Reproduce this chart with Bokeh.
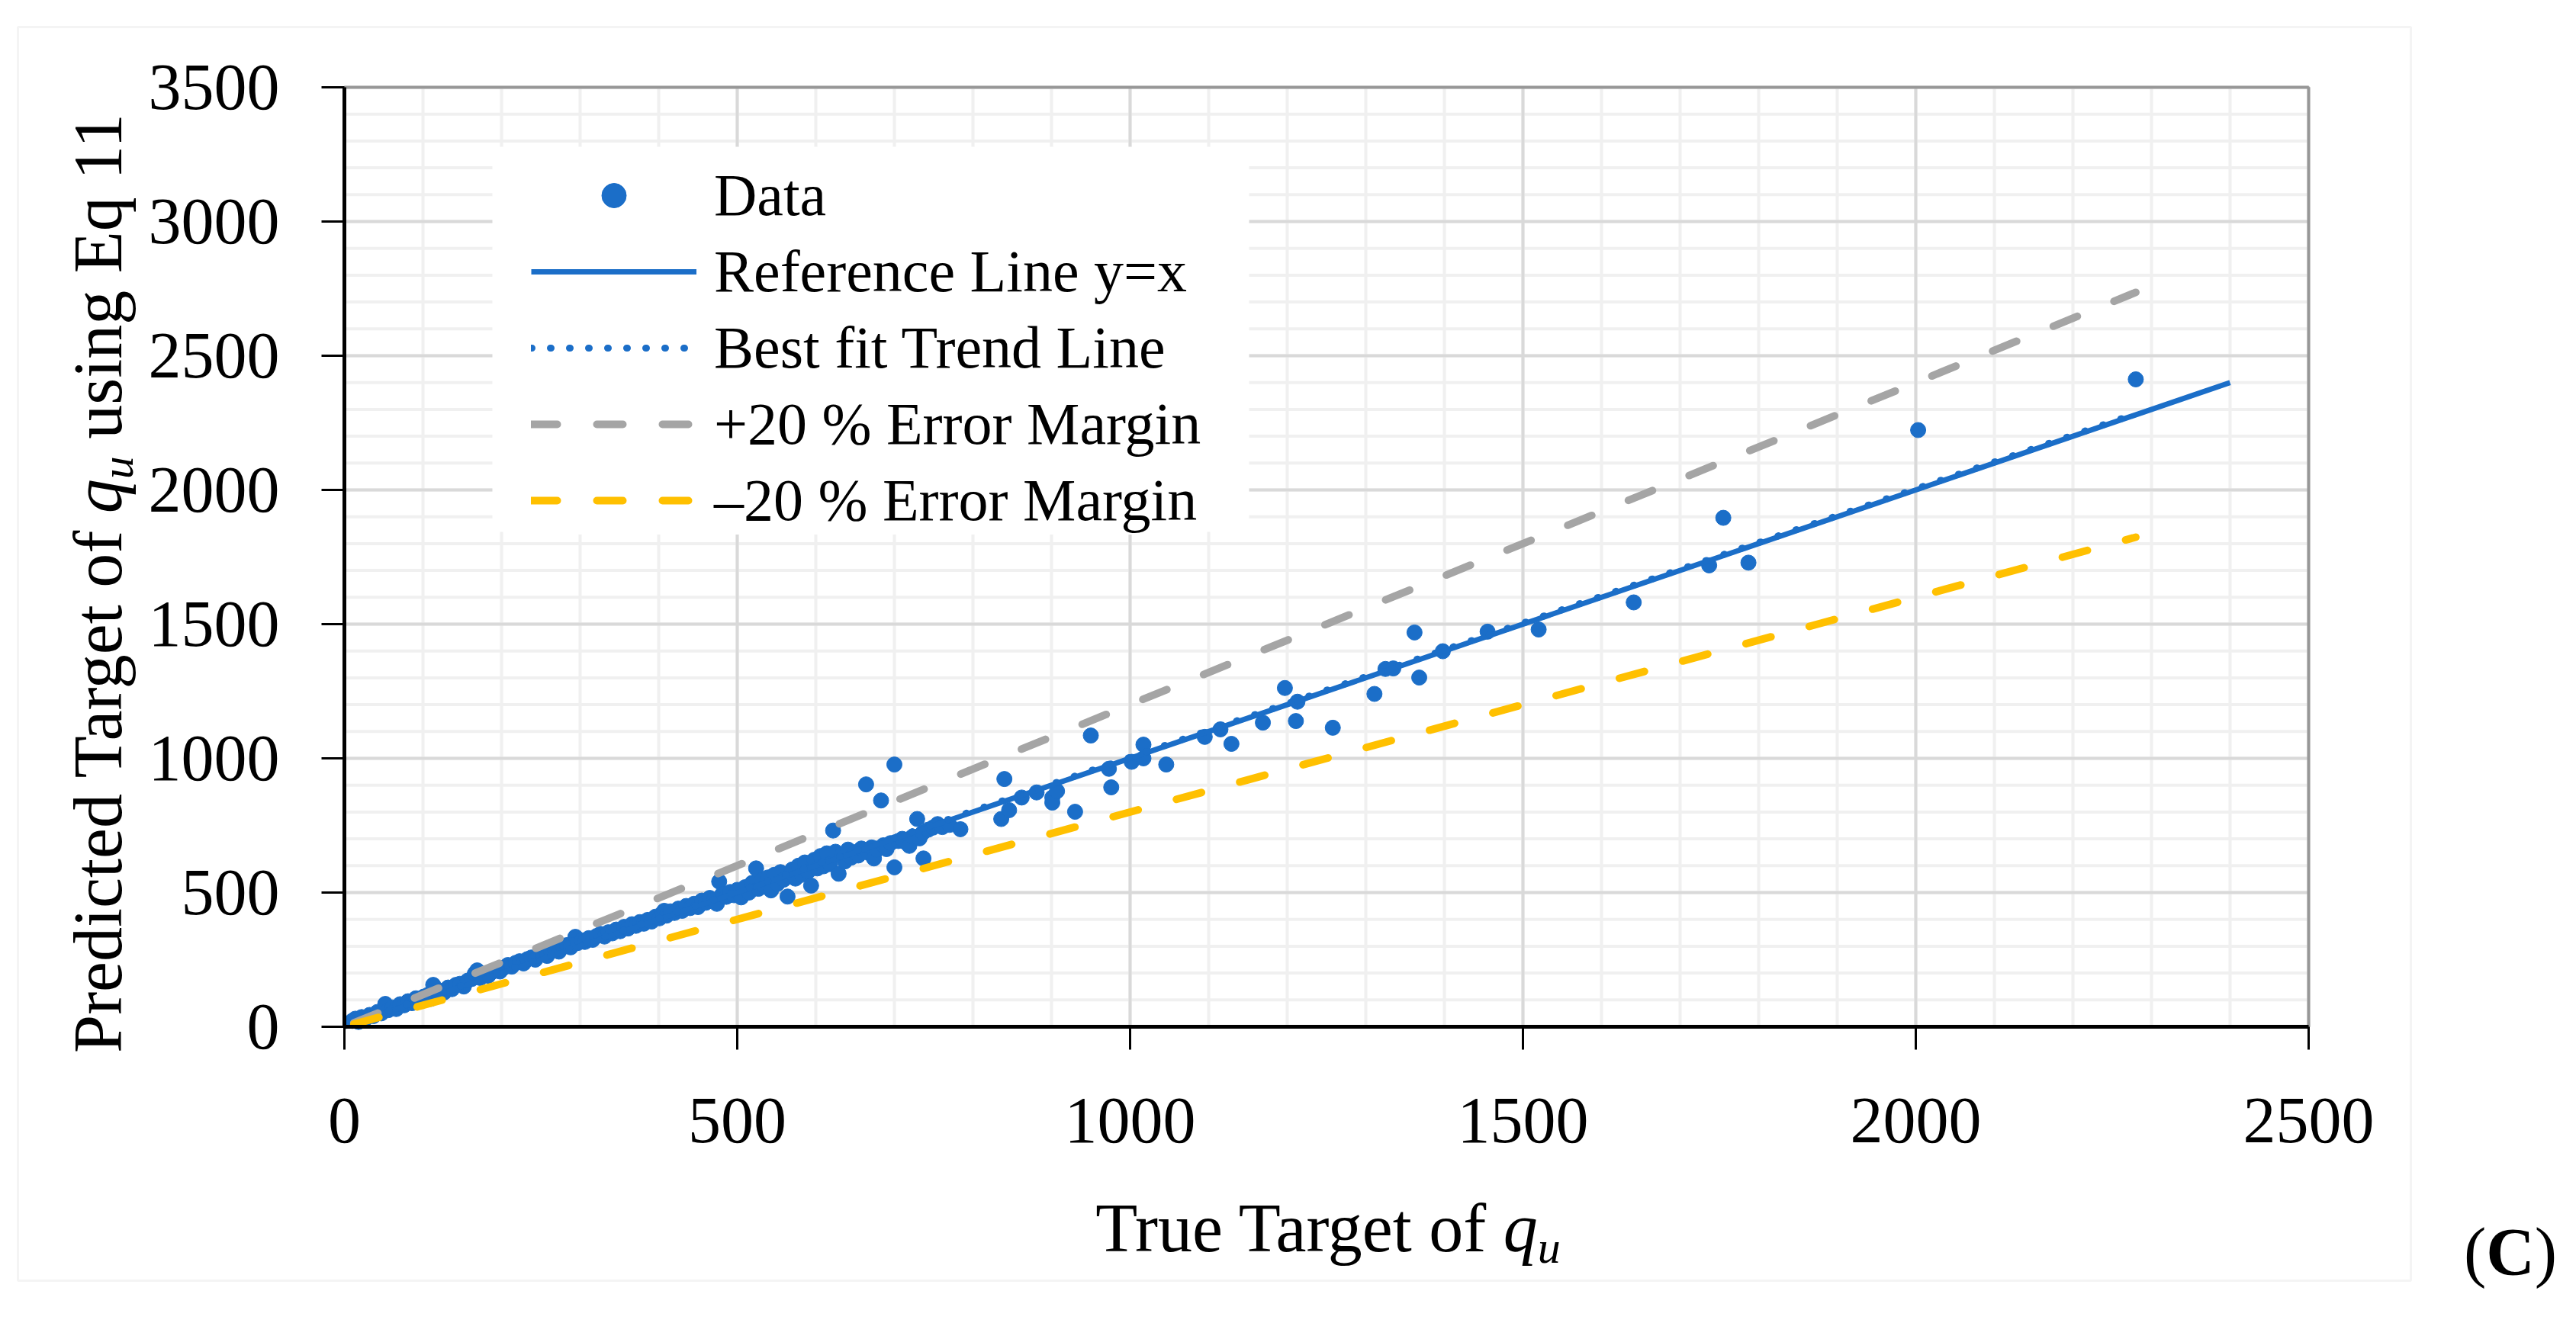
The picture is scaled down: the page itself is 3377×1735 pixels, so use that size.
import math
import glob
from bokeh.plotting import figure
from bokeh.models import (Range1d, FixedTicker, Label, Legend, LegendItem, BoxAnnotation)
from bokeh.embed import file_html
from bokeh.resources import INLINE

# ---------------- data ----------------
true_qu = [10, 14, 18, 22, 27, 32, 37, 42, 47, 52, 56, 61, 66, 71, 76, 81, 86, 91, 96, 101,
           106, 110, 113, 117, 122, 127, 132, 137, 142, 147, 152, 157, 162, 166, 169, 173, 178, 183, 188, 193,
           198, 203, 208, 213, 218, 223, 228, 233, 238, 243, 248, 253, 258, 263, 268, 273, 278, 283, 288, 294,
           297, 302, 306,
           311, 316, 321, 326, 331, 336, 341, 346, 351, 356, 361, 366, 371, 376, 381, 386, 391, 396, 401, 405,
           407, 410, 415, 420, 425, 430, 435, 440, 445, 450, 455, 460, 465, 470, 474, 477, 481, 486, 491, 496,
           500, 505,
           510, 515, 519, 524, 527, 531, 535, 539, 543, 547, 551, 555, 559, 564, 566, 570, 574, 578, 582, 586,
           590, 594, 598, 602, 606, 610, 614, 618, 622, 625, 629, 633, 637, 641, 645, 650, 654, 658, 664, 667,
           671, 674, 678, 683, 686, 690, 695, 700, 700, 705, 710, 715, 719, 723, 729, 732, 736, 737, 743, 749,
           755, 761, 770, 784,
           836, 840, 846, 862, 881, 901, 901, 907, 930, 950, 973, 976, 1002, 1017, 1017, 1046, 1095, 1115, 1129, 1169,
           1197, 1211, 1213, 1258, 1311, 1325, 1335, 1362, 1368, 1398, 1455, 1520, 1641, 1737, 1755, 1787, 2003, 2280]
pred_qu = [22, 30, 18, 36, 30, 44, 40, 55, 50, 85, 62, 72, 66, 84, 80, 95, 88, 106, 100, 112,
           118, 104, 156, 126, 134, 128, 146, 140, 156, 160, 150, 172, 178, 198, 210, 182, 194, 190, 204, 212,
           206, 220, 230, 224, 238, 244, 236, 252, 258, 250, 266, 272, 264, 282, 288, 280, 298, 304, 296, 335,
           312, 322, 316,
           330, 324, 338, 346, 336, 352, 348, 362, 356, 372, 366, 382, 376, 390, 384, 398, 392, 410, 404, 424,
           432, 414, 430, 424, 440, 432, 450, 442, 458, 446, 470, 462, 480, 472, 458, 541, 494, 484, 502, 490,
           510, 482,
           520, 500, 536, 590, 514, 546, 522, 556, 508, 566, 532, 576, 548, 485, 560, 586, 552, 600, 566, 612,
           578, 526, 622, 590, 636, 598, 646, 606, 731, 652, 570, 640, 616, 660, 630, 650, 638, 664, 903, 648,
           668, 627, 660, 843, 676, 662, 684, 977, 594, 692, 700, 686, 674, 708, 774, 702, 722, 627, 734, 742,
           755, 744, 752, 736,
           774, 923, 807, 854, 873, 854, 835, 878, 801, 1085, 961, 892, 987, 1000, 1051, 977, 1080, 1108, 1054, 1133,
           1262, 1139, 1211, 1114, 1240, 1333, 1335, 1469, 1301, 1399, 1472, 1480, 1581, 1719, 1896, 1729, 2223, 2412]

ref_x = [0, 2400]
ref_y = [0, 2400]
trend_x = [10, 2280]
trend_y = [14, 2284]
plus20_x = [12, 2280]
plus20_y = [14.4, 2736]
minus20_x = [12, 2280]
minus20_y = [9.6, 1824]

x_ticks = [0, 500, 1000, 1500, 2000, 2500]
y_ticks = [0, 500, 1000, 1500, 2000, 2500, 3000, 3500]
x_minor = list(range(0, 2501, 100))
y_minor = list(range(0, 3501, 100))

series_labels = ["Data", "Reference Line y=x", "Best fit Trend Line",
                 "+20 % Error Margin", "\u201320 % Error Margin"]
x_title = ["True Target of ", "q", "u"]
y_title = ["Predicted Target of ", "q", "u", " using Eq 11"]
tag = ["(", "C", ")"]

BLUE = "#1b6ec8"
GRAY = "#a5a5a5"
GOLD = "#ffc000"
FONT = "Liberation Serif"

# ---------------- text width helper (layout only) ----------------
_TW = {' ': 250, 'P': 556, 'r': 333, 'e': 444, 'd': 500, 'i': 278, 'c': 444, 't': 278, 'T': 611,
       'a': 444, 'g': 500, 'o': 500, 'f': 333, 'u': 500, 's': 389, 'n': 500, 'E': 611, 'q': 500,
       '1': 500, '(': 333, ')': 333, 'C': 667}
_FILES = {"normal": "LiberationSerif-Regular.ttf", "italic": "LiberationSerif-Italic.ttf",
          "bold": "LiberationSerif-Bold.ttf"}
_font_cache = {}


def text_w(text, size, style="normal"):
    try:
        from PIL import ImageFont
        key = (style, size)
        if key not in _font_cache:
            hits = []
            for root in ("/usr/share/fonts", "/usr/local/share/fonts", "/usr/share/fonts/truetype"):
                hits += glob.glob(f"{root}/**/{_FILES[style]}", recursive=True)
            _font_cache[key] = ImageFont.truetype(hits[0], size)
        return float(_font_cache[key].getlength(text))
    except Exception:
        extra = 1.08 if style == "bold" else 1.0
        return sum(_TW.get(ch, 500) for ch in text) / 1000.0 * size * extra


# ---------------- layout: the frame covers the whole canvas ----------------
W, H = 3360, 1718            # canvas (page offset 8 px)
PLOT_L, PLOT_R = 451, 3026   # canvas px of x = 0 and x = 2500
PLOT_T, PLOT_B = 114, 1346   # canvas px of y = 3500 and y = 0
XMIN, XMAX = x_ticks[0], x_ticks[-1]
YMIN, YMAX = y_ticks[0], y_ticks[-1]
kx = (PLOT_R - PLOT_L) / (XMAX - XMIN)
ky = (PLOT_B - PLOT_T) / (YMAX - YMIN)
x_range = Range1d(XMIN - PLOT_L / kx, XMAX + (W - PLOT_R) / kx)
y_range = Range1d(YMIN - (H - PLOT_B) / ky, YMAX + PLOT_T / ky)

p = figure(width=W, height=H, output_backend="svg", toolbar_location=None,
           x_range=x_range, y_range=y_range, min_border=0)
p.background_fill_color = "white"
p.border_fill_color = "white"
p.outline_line_color = None
p.xgrid.visible = False
p.ygrid.visible = False

xt = FixedTicker(ticks=x_ticks, minor_ticks=x_minor)
yt = FixedTicker(ticks=y_ticks, minor_ticks=y_minor)
xa, ya = p.xaxis[0], p.yaxis[0]
xa.ticker = xt
ya.ticker = yt
xa.fixed_location = YMIN
ya.fixed_location = XMIN
xa.bounds = (XMIN, XMAX)
ya.bounds = (YMIN, YMAX)
for ax in (xa, ya):
    ax.axis_line_color = "black"
    ax.axis_line_width = 5
    ax.major_tick_line_color = "black"
    ax.major_tick_line_width = 3
    ax.major_tick_out = 30
    ax.major_tick_in = 0
    ax.minor_tick_line_color = None
    ax.major_label_text_font = FONT
    ax.major_label_text_font_size = "86px"
    ax.major_label_text_color = "black"
xa.major_label_standoff = 64
ya.major_label_standoff = 55

# ---------------- grid lines (from the tick arrays) ----------------
p.segment(x0=x_minor, y0=[YMIN] * len(x_minor), x1=x_minor, y1=[YMAX] * len(x_minor),
          line_color="#f0f0f0", line_width=4, level="image")
p.segment(x0=[XMIN] * len(y_minor), y0=y_minor, x1=[XMAX] * len(y_minor), y1=y_minor,
          line_color="#f0f0f0", line_width=4, level="image")
p.segment(x0=x_ticks, y0=[YMIN] * len(x_ticks), x1=x_ticks, y1=[YMAX] * len(x_ticks),
          line_color="#d9d9d9", line_width=4, level="image")
p.segment(x0=[XMIN] * len(y_ticks), y0=y_ticks, x1=[XMAX] * len(y_ticks), y1=y_ticks,
          line_color="#d9d9d9", line_width=4, level="image")

# white area behind the legend (hides the grid there)
p.add_layout(BoxAnnotation(left=645, right=1637, top=1526, bottom=1021,
                           left_units="screen", right_units="screen",
                           top_units="screen", bottom_units="screen",
                           fill_color="white", fill_alpha=1.0, line_color=None, level="underlay"))

# ---------------- glyphs ----------------
r_pts = p.scatter(true_qu, pred_qu, size=20, marker="circle", fill_color=BLUE, line_color=BLUE)
r_ref = p.line(ref_x, ref_y, line_color=BLUE, line_width=7)
r_trend = p.line(trend_x, trend_y, line_color=BLUE, line_width=9, line_dash="1 24", line_cap="round")
r_p20 = p.line(plus20_x, plus20_y, line_color=GRAY, line_width=10, line_dash="34 52", line_cap="round")
r_m20 = p.line(minus20_x, minus20_y, line_color=GOLD, line_width=10, line_dash="34 52", line_cap="round")

# plot-area box (top and right black border)
p.add_layout(BoxAnnotation(left=XMIN, right=XMAX, bottom=YMIN, top=YMAX,
                           fill_color=None, fill_alpha=0, line_color="black", line_width=4))

legend = Legend(items=[LegendItem(label=series_labels[0], renderers=[r_pts]),
                       LegendItem(label=series_labels[1], renderers=[r_ref]),
                       LegendItem(label=series_labels[2], renderers=[r_trend]),
                       LegendItem(label=series_labels[3], renderers=[r_p20]),
                       LegendItem(label=series_labels[4], renderers=[r_m20])],
                location=(696, 1017), orientation="vertical",
                label_text_font=FONT, label_text_font_size="78px", label_text_color="black",
                glyph_width=217, glyph_height=80, label_height=80, label_standoff=23,
                spacing=10, padding=25, margin=0,
                background_fill_color="white", background_fill_alpha=1.0,
                border_line_color=None)
p.add_layout(legend)

# ---------------- outer light border ----------------
p.add_layout(BoxAnnotation(left=23, right=3160, top=1683, bottom=39,
                           left_units="screen", right_units="screen",
                           top_units="screen", bottom_units="screen",
                           fill_color=None, fill_alpha=0,
                           line_color="#d9d9d9", line_width=3))

BASE_FIX = 0.25   # the label anchor sits this many em above the drawn baseline


def lab(text, x, y, size, style="normal", angle=0.0):
    p.add_layout(Label(text=text, x=x, y=y, x_units="screen", y_units="screen",
                       text_font=FONT, text_font_size=f"{size}px", text_font_style=style,
                       text_color="black", text_align="left", text_baseline="alphabetic",
                       angle=angle))


def run_of_text(pieces, start, across, vertical):
    """Lay out text pieces one after another; leading spaces become a gap."""
    pos = start
    for t, s, st, d in pieces:
        stripped = t.lstrip(" ")
        lead = text_w(t[:len(t) - len(stripped)], s, st) if stripped != t else 0.0
        if vertical:
            lab(stripped, across + d - BASE_FIX * s, pos + lead, s, st, angle=math.pi / 2)
        else:
            lab(stripped, pos + lead, across - d + BASE_FIX * s, s, st)
        pos += text_w(t, s, st)


def run_width(pieces):
    return sum(text_w(t, s, st) for t, s, st, _ in pieces)


T_SIZE, S_SIZE, DROP = 90, 60, 18

# x title: centred under the plot, baseline 86 px above the canvas bottom
pieces_x = [(x_title[0], T_SIZE, "normal", 0), (x_title[1], T_SIZE, "italic", 0),
            (x_title[2], S_SIZE, "italic", DROP)]
run_of_text(pieces_x, 1740.5 - run_width(pieces_x) / 2, 86, vertical=False)

# y title (rotated, reads upward), baseline at x = 150
pieces_y = [(y_title[0], T_SIZE, "normal", 0), (y_title[1], T_SIZE, "italic", 0),
            (y_title[2], S_SIZE, "italic", DROP), (y_title[3], T_SIZE, "normal", 0)]
run_of_text(pieces_y, 953.5 - run_width(pieces_y) / 2, 150, vertical=True)

# panel tag "(C)"
TAG = 88
pieces_t = [(tag[0], TAG, "normal", 0), (tag[1], TAG, "bold", 0), (tag[2], TAG, "normal", 0)]
run_of_text(pieces_t, 3290.5 - run_width(pieces_t) / 2, 55, vertical=False)

open("out.html", "w").write(file_html(p, INLINE))
